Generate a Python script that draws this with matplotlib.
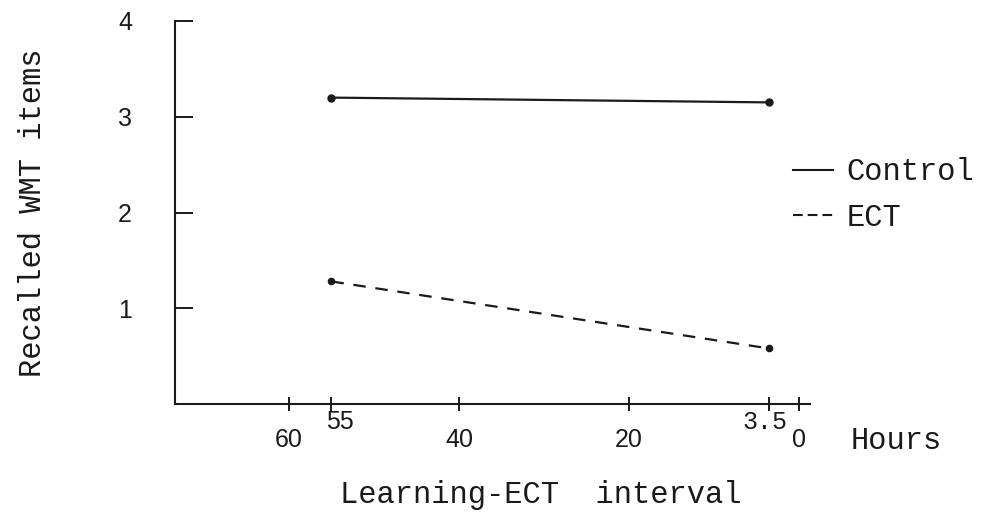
import matplotlib
matplotlib.use("Agg")
import matplotlib.pyplot as plt
from matplotlib.lines import Line2D

plt.rcParams['lines.scale_dashes'] = False

# ---- data ----
hours = [55, 3.5]
control = [3.20, 3.15]
ect = [1.28, 0.58]
series_labels = ["Control", "ECT"]
xticks = [60, 40, 20, 0]
xtick_labels = ["60", "40", "20", "0"]
yticks = [1, 2, 3, 4]
ytick_labels = ["1", "2", "3", "4"]
point_labels = ["55", "3.5"]

W, H = 983, 519
fig = plt.figure(figsize=(W / 100, H / 100), dpi=100)
ax = fig.add_axes([175 / W, (H - 404) / H, (810 - 175) / W, (404 - 21) / H])

mono = "Liberation Mono"
sans = "Liberation Sans"
ink = "#1a1a1a"

ax.plot(hours, control, color=ink, lw=1.6, marker="o", ms=5, solid_capstyle="butt")
ax.plot(hours, ect, color=ink, lw=1.6, marker="o", ms=4.5, dashes=(9, 7))

ax.set_xlim(73.4, -1.3)
ax.set_ylim(0, 4)

for s in ["top", "right"]:
    ax.spines[s].set_visible(False)
for s in ["left", "bottom"]:
    ax.spines[s].set_linewidth(1.5)
    ax.spines[s].set_color(ink)

ax.set_xticks(xticks)
ax.set_xticklabels(xtick_labels, fontfamily=sans)
ax.set_yticks(yticks)
ax.set_yticklabels(ytick_labels, fontfamily=sans)
ax.tick_params(axis="x", direction="inout", length=10, width=1.4, pad=12, colors=ink, labelsize=18)
ax.tick_params(axis="y", direction="in", length=13, width=1.4, pad=31, colors=ink, labelsize=18)

# minor ticks at data points, with their own labels just under the axis
ax.set_xticks(hours, minor=True)
ax.tick_params(axis="x", which="minor", direction="inout", length=10, width=1.4, colors=ink)
for xv, lab, dx in zip(hours, point_labels, [6, -3]):
    fam = sans if lab == "55" else mono
    ax.annotate(lab, xy=(xv, 0), xycoords=("data", "data"), xytext=(dx, -4),
                textcoords="offset points", ha="center", va="top",
                fontsize=18, fontfamily=fam, color=ink)

ax.set_xlabel("Learning-ECT  interval", fontfamily=mono, fontsize=22, color=ink, va="center")
ax.xaxis.set_label_coords(0.576, -0.2376)
ax.set_ylabel("Recalled WMT items", fontfamily=mono, fontsize=22, color=ink, va="center")
ax.yaxis.set_label_coords((33 - 175) / 635, 0.5)

ax.text((851 - 175) / 635, (404 - 441) / 383, "Hours", transform=ax.transAxes,
        fontfamily=mono, fontsize=22, color=ink, ha="left", va="center")

handles = [Line2D([], [], color=ink, lw=1.5),
           Line2D([], [], color=ink, lw=1.5, dashes=(7, 3.6))]
leg = ax.legend(handles, series_labels, loc="center left",
                bbox_to_anchor=(793 / W, 1 - 195 / H), bbox_transform=fig.transFigure,
                frameon=False, borderpad=0, borderaxespad=0, handlelength=1.31,
                handletextpad=0.45, labelspacing=0.5,
                prop={"family": mono, "size": 22})
for t in leg.get_texts():
    t.set_color(ink)

fig.savefig("out.png", dpi=100, facecolor="white")
